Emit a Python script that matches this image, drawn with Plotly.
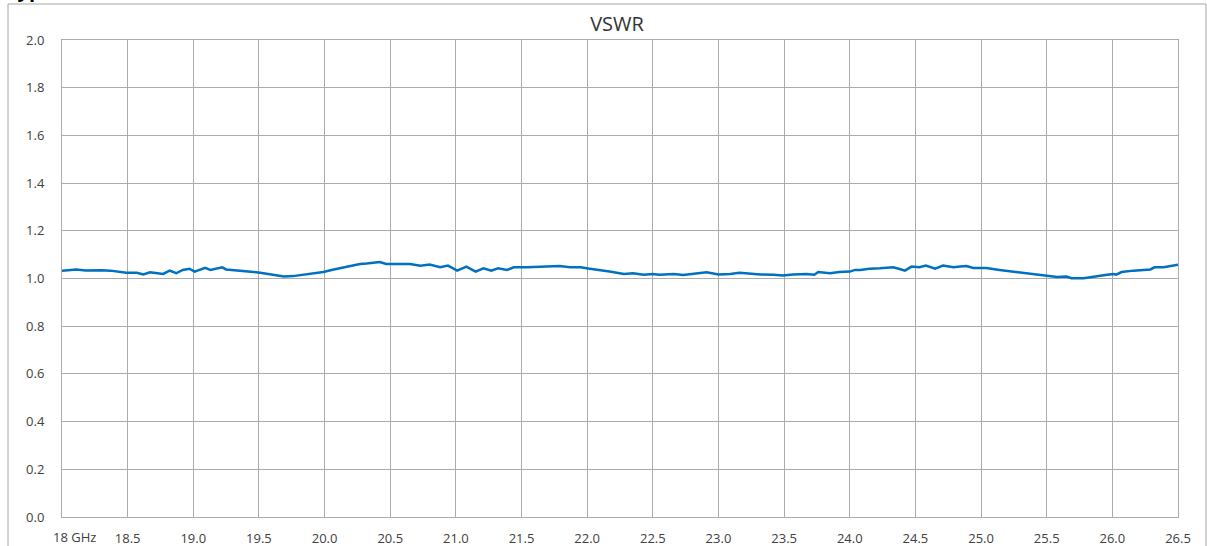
import plotly.graph_objects as go

freq = [18.00, 18.06, 18.11, 18.18, 18.24, 18.30, 18.37, 18.43, 18.49, 18.57, 18.62, 18.67, 18.72, 18.77,
        18.82, 18.87, 18.92, 18.97, 19.01, 19.05, 19.09, 19.13, 19.18, 19.22, 19.25, 19.30, 19.38, 19.46,
        19.51, 19.58, 19.69, 19.76, 19.84, 19.91, 19.99, 20.07, 20.14, 20.19, 20.27, 20.32, 20.37, 20.42,
        20.47, 20.52, 20.60, 20.65, 20.73, 20.80, 20.88, 20.94, 21.01, 21.08, 21.15, 21.21, 21.27, 21.32,
        21.39, 21.44, 21.54, 21.64, 21.72, 21.79, 21.87, 21.95, 22.02, 22.10, 22.17, 22.28, 22.35, 22.43,
        22.50, 22.55, 22.66, 22.73, 22.81, 22.91, 23.00, 23.09, 23.16, 23.24, 23.32, 23.42, 23.49, 23.57,
        23.67, 23.73, 23.76, 23.85, 23.92, 24.00, 24.04, 24.08, 24.15, 24.23, 24.33, 24.38, 24.42, 24.47,
        24.53, 24.58, 24.65, 24.71, 24.79, 24.84, 24.89, 24.94, 25.04, 25.14, 25.27, 25.40, 25.50, 25.58,
        25.65, 25.69, 25.78, 25.85, 25.96, 26.01, 26.03, 26.07, 26.16, 26.29, 26.32, 26.39, 26.44, 26.50]
vswr = [1.033, 1.037, 1.038, 1.034, 1.036, 1.035, 1.033, 1.030, 1.024, 1.024, 1.017, 1.026, 1.022, 1.019,
        1.033, 1.022, 1.036, 1.041, 1.029, 1.038, 1.045, 1.036, 1.041, 1.047, 1.038, 1.036, 1.033, 1.027,
        1.024, 1.019, 1.008, 1.010, 1.015, 1.022, 1.027, 1.038, 1.047, 1.052, 1.061, 1.063, 1.066, 1.069,
        1.061, 1.061, 1.061, 1.061, 1.054, 1.059, 1.047, 1.054, 1.033, 1.050, 1.029, 1.043, 1.033, 1.043,
        1.036, 1.047, 1.047, 1.050, 1.050, 1.052, 1.047, 1.047, 1.041, 1.036, 1.029, 1.019, 1.022, 1.016,
        1.019, 1.016, 1.019, 1.015, 1.019, 1.026, 1.017, 1.019, 1.024, 1.019, 1.017, 1.016, 1.013, 1.017,
        1.019, 1.016, 1.027, 1.022, 1.027, 1.029, 1.036, 1.036, 1.041, 1.043, 1.047, 1.040, 1.033, 1.050,
        1.047, 1.054, 1.041, 1.054, 1.047, 1.050, 1.052, 1.044, 1.044, 1.036, 1.027, 1.019, 1.013, 1.006,
        1.008, 1.001, 1.001, 1.008, 1.016, 1.019, 1.016, 1.027, 1.033, 1.038, 1.047, 1.047, 1.052, 1.058]

x_ticks = [18.5, 19.0, 19.5, 20.0, 20.5, 21.0, 21.5, 22.0, 22.5, 23.0, 23.5, 24.0, 24.5, 25.0, 25.5, 26.0, 26.5]
x_tick_labels = ["18.5", "19.0", "19.5", "20.0", "20.5", "21.0", "21.5", "22.0", "22.5", "23.0", "23.5",
                 "24.0", "24.5", "25.0", "25.5", "26.0", "26.5"]
x_first_label = "18 GHz"
y_ticks = [0.0, 0.2, 0.4, 0.6, 0.8, 1.0, 1.2, 1.4, 1.6, 1.8, 2.0]
title_text = "VSWR"
heading_text = "Typical VSWR"

W, H = 1207, 546
L, R, T, B = 62, 29, 40, 29
pw, ph = W - L - R, H - T - B

grid = "#ababab"
txt = "#404040"
fnt = "Open Sans"

fig = go.Figure()
fig.add_trace(go.Scatter(x=freq, y=vswr, mode="lines",
                         line=dict(color="#0070C0", width=2.5), hoverinfo="x+y", showlegend=False))

fig.update_layout(
    width=W, height=H,
    margin=dict(l=L, r=R, t=T, b=B),
    paper_bgcolor="white", plot_bgcolor="white",
    title=dict(text=title_text, x=(L + pw / 2 - 3) / W, xanchor="center",
               y=1 - 24 / H, yanchor="middle", yref="container",
               font=dict(family=fnt, size=20, color="#333333")),
    xaxis=dict(range=[18, 26.5], tickmode="array", tickvals=[18.0] + x_ticks,
               ticktext=[""] + x_tick_labels, showgrid=True, gridcolor=grid, gridwidth=1,
               showline=True, linecolor=grid, linewidth=1, mirror=True, zeroline=False,
               ticks="", ticklabelstandoff=9, automargin=False,
               tickfont=dict(family=fnt, size=13, color=txt)),
    yaxis=dict(range=[0, 2.0], tickmode="array", tickvals=y_ticks,
               ticktext=[f"{v:.1f}" for v in y_ticks], showgrid=True, gridcolor=grid, gridwidth=1,
               showline=True, linecolor=grid, linewidth=1, mirror=True, zeroline=False,
               ticks="", ticklabelstandoff=14, automargin=False,
               tickfont=dict(family=fnt, size=13, color=txt)),
    font=dict(family=fnt),
)

fig.add_annotation(text=x_first_label, x=18.0, y=0, xref="x", yref="paper",
                   xanchor="center", yanchor="top", xshift=12, yshift=-9, showarrow=False,
                   font=dict(family=fnt, size=13, color=txt))

fig.add_annotation(text=f"<b>{heading_text}</b>", x=(4 - L) / pw, y=(H - B - 5) / ph,
                   xref="paper", yref="paper", xanchor="left", yanchor="bottom", showarrow=False,
                   font=dict(family=fnt, size=20, color="#000000"))

# outer chart frame
fig.add_shape(type="rect", xref="paper", yref="paper",
              x0=(8 - L) / pw, x1=(1206 - L) / pw, y0=(H - B - 560) / ph, y1=(H - B - 4) / ph,
              line=dict(color="#a6a6a6", width=1), fillcolor="rgba(0,0,0,0)", layer="below")

fig.write_html("out.html", config={"displayModeBar": False},
               post_script="document.body.style.margin='0';")
